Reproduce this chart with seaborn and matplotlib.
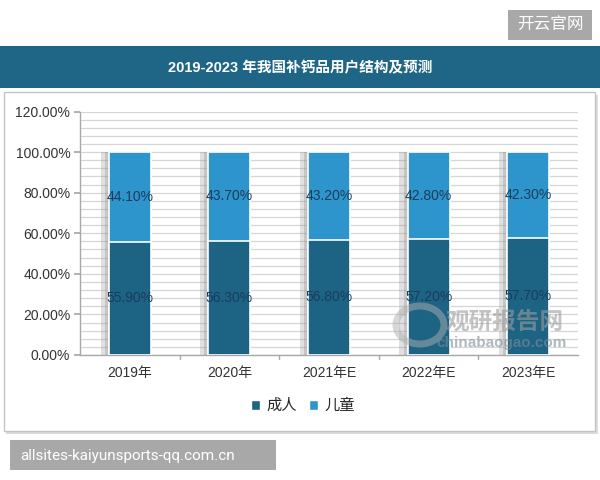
import matplotlib
matplotlib.use("Agg")
import matplotlib.pyplot as plt
import matplotlib.patheffects as pe
from matplotlib.patches import Rectangle, Patch, Ellipse
from matplotlib.ticker import MultipleLocator, FuncFormatter
import seaborn as sns
import pandas as pd

# data
years = ["2019年", "2020年", "2021年E", "2022年E", "2023年E"]
adult = [55.9, 56.3, 56.8, 57.2, 57.7]
child = [44.1, 43.7, 43.2, 42.8, 42.3]
series_names = ["成人", "儿童"]
title = "2019-2023 年我国补钙品用户结构及预测"

df = pd.DataFrame({"year": years, "adult": adult, "child": child})
df["total"] = df["adult"] + df["child"]

sns.set_theme(style="white")
plt.rcParams["font.family"] = ["Liberation Sans", "Noto Sans CJK SC", "DejaVu Sans"]

c_adult = "#1d6384"
c_child = "#2d95cb"
c_label = "#1b3d5c"

W, H = 600, 480
fig = plt.figure(figsize=(6, 4.8), dpi=100)
fig.patch.set_facecolor("white")


def box(x0, y0, x1, y1, **kw):
    # pixel rectangle (top-left origin) in figure coords
    r = Rectangle((x0 / W, 1 - y1 / H), (x1 - x0) / W, (y1 - y0) / H,
                  transform=fig.transFigure, zorder=-5, **kw)
    fig.patches.append(r)
    return r


# top watermark box
box(508, 10, 592, 40, facecolor="#a8a8a8", edgecolor="none")
fig.text(550 / W, 1 - 25 / H, "开云官网", color="white", fontsize=12,
         ha="center", va="center")

# title bar
box(0, 46, 600, 88, facecolor="#1e6586", edgecolor="none")
fig.text(300 / W, 1 - 68 / H, title, color="white", fontsize=10.5,
         fontweight="bold", ha="center", va="center")

# chart frame with soft shadow
box(6, 95, 598, 434, facecolor="#dcdcdc", edgecolor="none")
box(4, 92, 595, 431, facecolor="white", edgecolor="#c4c4c4", linewidth=1)

# bottom watermark box
box(10, 440, 276, 470, facecolor="#a8a8a8", edgecolor="none")
fig.text(20 / W, 1 - 456 / H, "allsites-kaiyunsports-qq.com.cn", color="white",
         fontsize=11, ha="left", va="center", family=["Roboto", "DejaVu Sans"])

ax = fig.add_axes([80 / W, 1 - 355 / H, 498 / W, (355 - 111.5) / H])
ax.set_facecolor("none")
ax.set_zorder(2)

shadow = [pe.SimplePatchShadow(offset=(-6, 0), shadow_rgbFace="#9a9a9a", alpha=0.3),
          pe.SimplePatchShadow(offset=(-3, 0), shadow_rgbFace="#8a8a8a", alpha=0.3),
          pe.Normal()]
sns.barplot(data=df, x="year", y="total", color=c_child, width=0.42,
            saturation=1, edgecolor="white", linewidth=1.2, ax=ax, zorder=3)
sns.barplot(data=df, x="year", y="adult", color=c_adult, width=0.42,
            saturation=1, edgecolor="white", linewidth=1.2, ax=ax, zorder=4)
n = len(years)
for i, p in enumerate(ax.patches):
    if i < n:
        p.set_path_effects(shadow)

# value labels
for i in range(n):
    ax.text(i, adult[i] / 2, f"{adult[i]:.2f}%", ha="center", va="center",
            color=c_label, fontsize=10, zorder=6)
    ax.text(i, adult[i] + child[i] / 2, f"{child[i]:.2f}%", ha="center",
            va="center", color=c_label, fontsize=10, zorder=6)

ax.set_ylim(0, 120)
ax.set_xlim(-0.5, n - 0.5)
ax.yaxis.set_major_locator(MultipleLocator(20))
ax.yaxis.set_minor_locator(MultipleLocator(4))
ax.yaxis.set_major_formatter(FuncFormatter(lambda v, _: f"{v:.2f}%"))
ax.grid(axis="y", which="both", color="#d6d6d6", linewidth=0.9, zorder=0)
ax.set_axisbelow(True)
ax.set_xlabel("")
ax.set_ylabel("")

for s in ["top", "right"]:
    ax.spines[s].set_visible(False)
for s in ["left", "bottom"]:
    ax.spines[s].set_color("#a8a8a8")
    ax.spines[s].set_linewidth(1)

ax.tick_params(axis="y", which="major", length=4, color="#a8a8a8",
               labelsize=10, labelcolor="#333333", pad=3, left=True)
ax.tick_params(axis="y", which="minor", length=0)
ax.tick_params(axis="x", length=0, labelsize=10, labelcolor="#333333", pad=8)
# category boundary ticks
for b in range(1, n):
    ax.plot([b - 0.5, b - 0.5], [0, -1.8], color="#a8a8a8", lw=1,
            clip_on=False, zorder=5)

# watermark
logo = Ellipse((420 / W, 1 - 325 / H), 48 / W, 38 / H, transform=fig.transFigure,
               facecolor="none", edgecolor="#b0b0b0", linewidth=5, alpha=0.5,
               zorder=10)
fig.patches.append(logo)
fig.text(505 / W, 1 - 322 / H, "观研报告网", color="#9c9c9c", alpha=0.6,
         fontsize=17, fontweight="bold", ha="center", va="center",
         family=["Noto Sans CJK SC"], zorder=10)
fig.text(502 / W, 1 - 343 / H, "chinabaogao.com", color="#7d8c97", alpha=0.6,
         fontsize=11, fontweight="bold", ha="center", va="center", zorder=10)

# legend
handles = [Patch(facecolor=c_adult, label=series_names[0]),
           Patch(facecolor=c_child, label=series_names[1])]
fig.legend(handles=handles, loc="center", bbox_to_anchor=(303 / W, 1 - 406 / H),
           ncol=2, frameon=False, fontsize=11, handlelength=0.6,
           handleheight=0.6, handletextpad=0.4, columnspacing=0.8)

fig.savefig("out.png", dpi=100)
